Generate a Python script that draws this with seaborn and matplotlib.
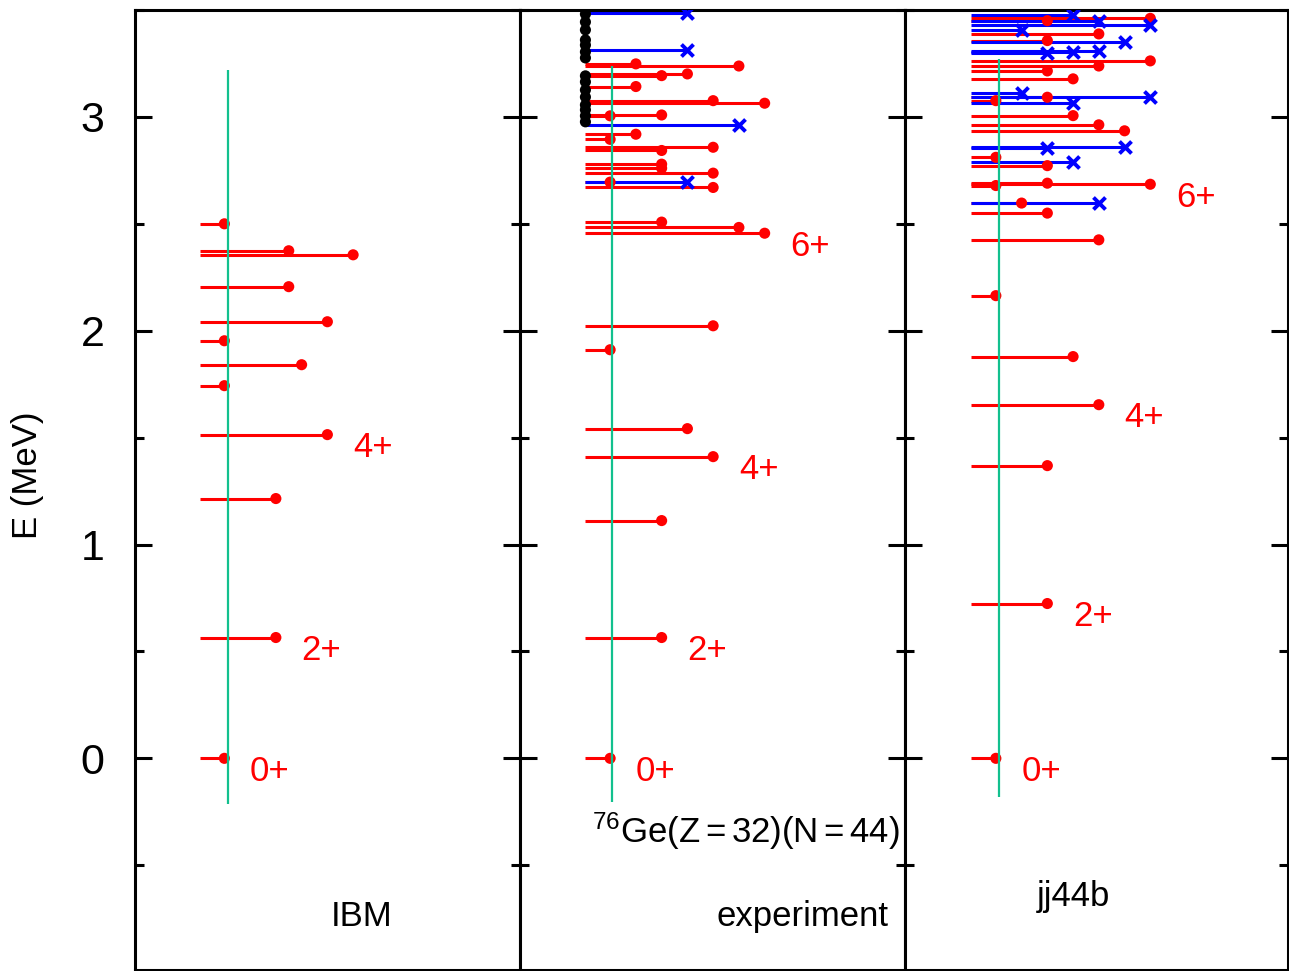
import matplotlib
matplotlib.use("Agg")
import matplotlib.pyplot as plt
import seaborn as sns
import pandas as pd
from matplotlib.ticker import MultipleLocator

sns.set_theme(style="white")
plt.rcParams['font.family'] = ['Liberation Sans', 'DejaVu Sans']
plt.rcParams['mathtext.fontset'] = 'custom'
plt.rcParams['mathtext.rm'] = 'Liberation Sans'

# ---------------- data ----------------
panel_names = ["IBM", "experiment", "jj44b"]

# IBM (positive parity only)
ibm_pos_E = [0.00, 0.565, 1.215, 1.514, 1.743, 1.841, 1.953, 2.042, 2.206, 2.374, 2.355, 2.50]
ibm_pos_J = [0, 2, 2, 4, 0, 3, 0, 4, 2.5, 2.5, 5, 0]
ibm_neg_E = []
ibm_neg_J = []
ibm_unk_E = []

# experiment
exp_pos_E = [0.00, 0.565, 1.112, 1.411, 1.542, 1.911, 2.023, 2.456, 2.483, 2.508,
             2.670, 2.695, 2.737, 2.760, 2.779, 2.843, 2.858, 2.895, 2.919, 3.005,
             3.009, 3.064, 3.076, 3.142, 3.193, 3.201, 3.238, 3.248]
exp_pos_J = [0, 2, 2, 4, 3, 0, 4, 6, 5, 2,
             4, 0, 4, 2, 2, 2, 4, 0, 1, 0,
             2, 6, 4, 1, 2, 3, 5, 1]
exp_neg_E = [2.695, 2.963, 3.313, 3.487]
exp_neg_J = [3, 5, 3, 3]
exp_unk_E = [3.481, 3.444, 3.407, 3.360, 3.336, 3.304, 3.276, 3.192, 3.164,
             3.126, 3.093, 3.056, 3.033, 3.005, 2.977]

# jj44b
jj_pos_E = [0.00, 0.724, 1.369, 1.654, 1.879, 2.164, 2.425, 2.550, 2.597, 2.679,
            2.685, 2.690, 2.772, 2.811, 2.935, 2.963, 3.006, 3.076, 3.092, 3.178,
            3.215, 3.238, 3.262, 3.357, 3.388, 3.450, 3.461]
jj_pos_J = [0, 2, 2, 4, 3, 0, 4, 2, 1, 0,
            6, 2, 2, 0, 5, 4, 3, 0, 2, 3,
            2, 4, 6, 2, 4, 2, 6]
jj_neg_E = [2.597, 2.787, 2.853, 2.861, 3.064, 3.092, 3.114, 3.298, 3.302, 3.309,
            3.349, 3.407, 3.430, 3.449, 3.477]
jj_neg_J = [4, 3, 2, 5, 3, 6, 1, 2, 3, 4,
            5, 1, 6, 4, 3]
jj_unk_E = []

# spin-parity labels
ibm_lab = ["0+", "2+", "4+"]
ibm_lab_J = [0, 2, 4]
ibm_lab_E = [0.00, 0.565, 1.514]
exp_lab = ["0+", "2+", "4+", "6+"]
exp_lab_J = [0, 2, 4, 6]
exp_lab_E = [0.00, 0.565, 1.411, 2.456]
jj_lab = ["0+", "2+", "4+", "6+"]
jj_lab_J = [0, 2, 4, 6]
jj_lab_E = [0.00, 0.724, 1.654, 2.685]

# green reference lines (x, lower, upper)
green_x = [0.15, 0.08, 0.12]
green_lo = [-0.215, -0.205, -0.18]
green_hi = [3.22, 3.24, 3.27]

panels = [
    (ibm_pos_E, ibm_pos_J, ibm_neg_E, ibm_neg_J, ibm_unk_E, ibm_lab, ibm_lab_J, ibm_lab_E),
    (exp_pos_E, exp_pos_J, exp_neg_E, exp_neg_J, exp_unk_E, exp_lab, exp_lab_J, exp_lab_E),
    (jj_pos_E, jj_pos_J, jj_neg_E, jj_neg_J, jj_unk_E, jj_lab, jj_lab_J, jj_lab_E),
]

# ---------------- figure ----------------
W, H = 1289, 971
fig = plt.figure(figsize=(W / 100, H / 100), dpi=100)
left_px = [135, 520, 905]
widths_px = [385, 385, 383]
X0 = -0.96
xlims = [(-3.47, 11.48), (-3.50, 11.45), (-3.53, 11.35)]
YLIM = (-0.99, 3.5)

axes = []
for i, (l, w) in enumerate(zip(left_px, widths_px)):
    ax = fig.add_axes([l / W, 1 / H, w / W, 960 / H])
    axes.append(ax)
    pE, pJ, nE, nJ, uE, labs, labJ, labE = panels[i]

    # level lines
    if pE:
        ax.hlines(pE, X0, pJ, color="#ff0000", lw=2.2, zorder=2)
    if nE:
        ax.hlines(nE, X0, nJ, color="#0000ff", lw=2.2, zorder=2.5)

    # markers
    if pE:
        dfp = pd.DataFrame({"J": pJ, "E": pE})
        sns.scatterplot(data=dfp, x="J", y="E", ax=ax, color="#ff0000", marker="o",
                        s=64, edgecolor="none", legend=False, zorder=3)
    if nE:
        dfn = pd.DataFrame({"J": nJ, "E": nE})
        sns.scatterplot(data=dfn, x="J", y="E", ax=ax, color="#0000ff", marker="x",
                        s=75, linewidth=2.8, legend=False, zorder=3.5)
    if uE:
        dfu = pd.DataFrame({"J": [X0] * len(uE), "E": uE})
        sns.scatterplot(data=dfu, x="J", y="E", ax=ax, color="black", marker="o",
                        s=64, edgecolor="none", legend=False, zorder=4)

    # green line
    ax.vlines(green_x[i], green_lo[i], green_hi[i], color="#12c08e", lw=1.6, zorder=5)

    # labels
    for t, j, e in zip(labs, labJ, labE):
        ax.text(j + 1.0, e - 0.062, t, color="#ff0000", fontsize=25,
                ha="left", va="center")

    ax.set_xlim(*xlims[i])
    ax.set_ylim(*YLIM)
    ax.set_xticks([])
    ax.set_xlabel("")
    ax.set_ylabel("")
    ax.yaxis.set_major_locator(MultipleLocator(1))
    ax.yaxis.set_minor_locator(MultipleLocator(0.5))
    ax.tick_params(axis="y", which="major", direction="in", length=12, width=2.2,
                   left=True, right=True, labelsize=31, pad=22, color="black",
                   labelcolor="black")
    ax.tick_params(axis="y", which="minor", direction="in", length=6.5, width=2.2,
                   left=True, right=True, color="black")
    if i > 0:
        ax.tick_params(axis="y", which="both", labelleft=False)
    for sp in ax.spines.values():
        sp.set_visible(True)
        sp.set_color("black")
        sp.set_linewidth(2.2)
    ax.set_facecolor("white")
    ax.grid(False)

# panel names
axes[0].text(5.32, -0.74, "IBM", fontsize=25, ha="center", va="center", color="black")
axes[1].text(7.46, -0.74, "experiment", fontsize=25, ha="center", va="center", color="black")
axes[2].text(3.03, -0.645, "jj44b", fontsize=25, ha="center", va="center", color="black")
axes[1].text(-0.7, -0.34, r"$\mathregular{^{76}}$Ge(Z$\,$=$\,$32)(N$\,$=$\,$44)", fontsize=25,
             ha="left", va="center", color="black")

fig.text(28 / W, 1 - 475 / H, "E (MeV)", rotation=90, fontsize=25,
         ha="center", va="center", color="black")

fig.savefig("out.png", dpi=100, facecolor="white")
